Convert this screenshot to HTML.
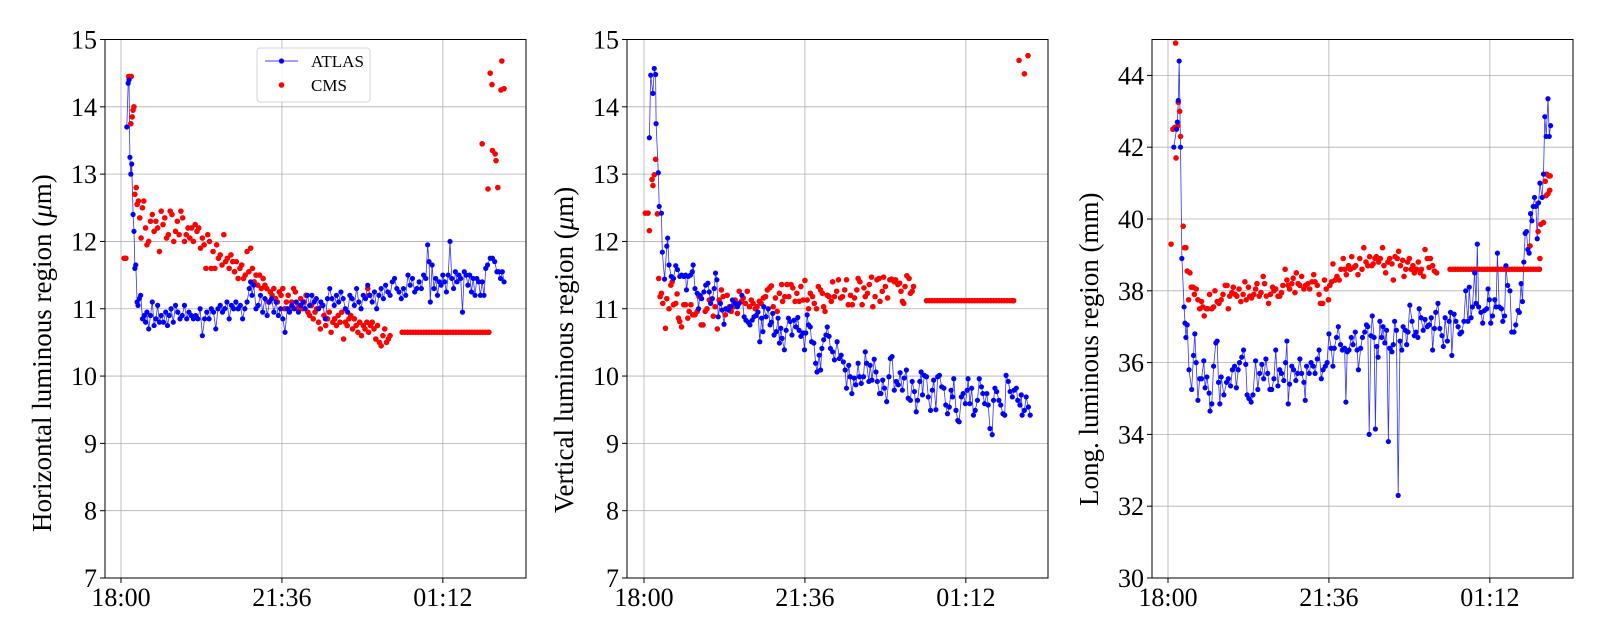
<!DOCTYPE html>
<html><head><meta charset="utf-8"><style>
html,body{margin:0;padding:0;background:#fff;}
svg{display:block;font-family:"Liberation Serif","DejaVu Serif",serif;}
</style></head><body>
<svg id="chart" width="1600" height="640" viewBox="0 0 1600 640" xmlns="http://www.w3.org/2000/svg"></svg>
<script>
// ---- data: [hours since 18:00, value] ----
const xTickLabels = ["18:00","21:36","01:12"];
const xTickHours = [0, 3.6, 7.2];
const yTicksH = [7,8,9,10,11,12,13,14,15];
const yTicksL = [30,32,34,36,38,40,42,44];

const atlasH = [[0.13,13.7],[0.16,14.35],[0.18,14.4],[0.2,13.25],[0.22,13.0],[0.24,13.15],[0.27,12.4],[0.29,12.15],[0.31,11.6],[0.33,11.65],[0.36,11.1],[0.38,11.05],[0.41,11.15],[0.44,11.2],[0.48,10.85],[0.52,10.9],[0.55,10.8],[0.58,10.95],[0.62,10.7],[0.66,10.9],[0.7,11.1],[0.74,10.75],[0.78,10.85],[0.82,11.05],[0.86,10.8],[0.9,10.9],[0.95,10.8],[1.0,10.95],[1.04,10.75],[1.08,10.9],[1.12,11.0],[1.17,10.8],[1.22,11.05],[1.27,10.95],[1.32,10.85],[1.37,10.9],[1.42,11.05],[1.47,10.85],[1.52,10.95],[1.57,10.9],[1.62,10.85],[1.67,10.9],[1.72,10.85],[1.77,11.0],[1.82,10.6],[1.87,10.85],[1.92,10.95],[1.97,10.85],[2.02,11.0],[2.07,10.95],[2.12,10.7],[2.17,11.0],[2.22,11.05],[2.27,10.95],[2.32,11.0],[2.37,11.1],[2.42,10.85],[2.47,11.05],[2.52,11.0],[2.57,11.1],[2.62,11.0],[2.67,11.05],[2.72,10.85],[2.77,11.0],[2.82,11.1],[2.87,11.3],[2.9,11.4],[2.93,11.2],[2.97,11.35],[3.02,11.0],[3.07,11.05],[3.12,11.2],[3.17,10.95],[3.22,11.15],[3.27,10.9],[3.32,11.1],[3.37,11.15],[3.42,10.95],[3.47,11.1],[3.52,10.9],[3.57,11.0],[3.62,10.85],[3.67,10.65],[3.72,11.0],[3.77,10.95],[3.82,11.05],[3.87,11.0],[3.92,11.1],[3.97,10.95],[4.02,11.05],[4.07,11.1],[4.12,11.0],[4.17,11.2],[4.22,11.05],[4.27,11.2],[4.32,11.1],[4.37,11.15],[4.42,11.0],[4.47,11.1],[4.52,11.05],[4.57,10.85],[4.62,11.15],[4.67,11.3],[4.72,11.15],[4.77,11.05],[4.82,11.2],[4.87,11.1],[4.92,11.25],[4.97,11.15],[5.02,11.0],[5.07,10.95],[5.12,11.2],[5.17,11.15],[5.22,11.05],[5.27,11.3],[5.32,11.1],[5.37,11.0],[5.42,11.2],[5.47,11.15],[5.52,11.35],[5.57,11.2],[5.62,11.1],[5.67,11.25],[5.72,11.0],[5.77,11.2],[5.82,11.3],[5.87,11.15],[5.92,11.35],[5.97,11.25],[6.02,11.2],[6.07,11.4],[6.12,11.45],[6.17,11.3],[6.22,11.25],[6.27,11.15],[6.32,11.3],[6.37,11.2],[6.42,11.5],[6.47,11.35],[6.52,11.45],[6.57,11.25],[6.62,11.3],[6.67,11.4],[6.72,11.3],[6.77,11.5],[6.82,11.45],[6.86,11.95],[6.89,11.7],[6.92,11.1],[6.96,11.65],[7.0,11.3],[7.04,11.45],[7.08,11.2],[7.12,11.4],[7.16,11.35],[7.2,11.5],[7.24,11.4],[7.28,11.25],[7.32,11.5],[7.36,12.0],[7.4,11.45],[7.44,11.3],[7.48,11.55],[7.52,11.4],[7.56,11.5],[7.6,11.45],[7.64,10.95],[7.68,11.55],[7.72,11.5],[7.76,11.35],[7.8,11.5],[7.84,11.25],[7.88,11.45],[7.92,11.2],[7.96,11.45],[8.0,11.4],[8.04,11.2],[8.08,11.4],[8.12,11.2],[8.16,11.6],[8.2,11.65],[8.26,11.75],[8.31,11.75],[8.36,11.7],[8.41,11.55],[8.45,11.55],[8.49,11.45],[8.53,11.55],[8.57,11.4]];

const cmsH = [[0.07,11.75],[0.11,11.75],[0.17,14.45],[0.2,14.45],[0.22,13.75],[0.23,14.45],[0.25,13.85],[0.27,13.95],[0.29,14.0],[0.31,12.7],[0.34,12.8],[0.36,12.55],[0.39,12.6],[0.42,12.35],[0.45,12.05],[0.48,12.5],[0.51,12.6],[0.55,12.2],[0.58,11.95],[0.62,12.0],[0.66,12.3],[0.7,12.4],[0.74,12.15],[0.78,12.3],[0.82,12.2],[0.86,11.85],[0.9,12.45],[0.94,12.25],[0.98,12.35],[1.02,12.05],[1.06,12.1],[1.1,12.45],[1.14,12.4],[1.18,12.0],[1.22,12.15],[1.26,12.3],[1.3,12.1],[1.34,12.45],[1.38,12.35],[1.42,12.0],[1.46,12.1],[1.5,12.2],[1.54,12.05],[1.58,12.2],[1.62,12.0],[1.66,12.25],[1.7,12.15],[1.74,12.2],[1.78,11.9],[1.82,12.05],[1.86,11.95],[1.9,11.6],[1.94,12.1],[1.98,12.0],[2.02,11.6],[2.06,11.85],[2.1,11.6],[2.14,11.95],[2.18,11.75],[2.22,11.8],[2.26,11.65],[2.3,12.1],[2.34,11.7],[2.38,11.75],[2.42,11.6],[2.46,11.8],[2.5,11.7],[2.54,11.55],[2.58,11.7],[2.62,11.45],[2.66,11.6],[2.7,11.65],[2.74,11.45],[2.78,11.5],[2.82,11.85],[2.86,11.55],[2.9,11.9],[2.94,11.6],[2.98,11.4],[3.02,11.5],[3.06,11.35],[3.1,11.5],[3.14,11.3],[3.18,11.45],[3.22,11.35],[3.26,11.3],[3.3,11.1],[3.34,11.25],[3.38,11.2],[3.42,11.3],[3.46,11.15],[3.5,11.1],[3.54,11.25],[3.58,11.2],[3.62,11.3],[3.66,11.0],[3.7,11.1],[3.74,11.2],[3.78,11.0],[3.82,11.1],[3.86,11.3],[3.9,11.25],[3.94,11.0],[3.98,11.05],[4.02,11.15],[4.06,11.0],[4.1,11.1],[4.14,11.2],[4.18,10.95],[4.22,10.9],[4.26,11.05],[4.3,10.85],[4.34,10.95],[4.38,11.0],[4.42,10.8],[4.46,10.7],[4.5,11.05],[4.54,10.9],[4.58,10.75],[4.62,10.85],[4.66,10.95],[4.7,10.65],[4.74,10.8],[4.78,10.85],[4.82,10.75],[4.86,10.9],[4.9,10.8],[4.94,10.95],[4.98,10.55],[5.02,10.8],[5.06,10.75],[5.1,10.85],[5.14,10.9],[5.18,10.7],[5.22,10.85],[5.26,10.75],[5.3,10.65],[5.34,10.8],[5.38,10.6],[5.42,10.75],[5.46,10.7],[5.5,10.8],[5.52,11.3],[5.55,11.2],[5.54,10.65],[5.58,10.75],[5.62,10.8],[5.66,10.7],[5.7,10.55],[5.74,10.75],[5.78,10.5],[5.82,10.45],[5.86,10.6],[5.9,10.7],[5.94,10.5],[5.98,10.55],[6.02,10.6],
[8.08,13.45],[8.21,12.78],[8.26,14.5],[8.3,14.33],[8.31,13.35],[8.37,13.3],[8.39,13.2],[8.43,12.8],[8.5,14.25],[8.52,14.68],[8.57,14.27]];
const cmsHFlatT = [6.29,6.35,6.41,6.47,6.53,6.59,6.65,6.71,6.77,6.83,6.89,6.95,7.01,7.07,7.13,7.19,7.25,7.31,7.37,7.43,7.49,7.55,7.61,7.67,7.73,7.79,7.85,7.91,7.97,8.03,8.09,8.15,8.21,8.23];
const cmsHFlatV = 10.65;

const atlasV = [[0.12,13.54],[0.15,14.47],[0.2,14.2],[0.23,14.57],[0.26,14.48],[0.27,13.75],[0.32,13.02],[0.34,12.52],[0.39,12.42],[0.41,11.84],[0.46,11.44],[0.51,11.93],[0.53,12.05],[0.56,11.65],[0.61,11.48],[0.66,11.45],[0.71,11.64],[0.75,11.58],[0.8,11.48],[0.84,11.5],[0.89,11.48],[0.93,11.5],[0.95,11.28],[0.99,11.48],[1.04,11.5],[1.08,11.55],[1.1,11.65],[1.14,11.3],[1.19,11.23],[1.22,11.0],[1.25,11.2],[1.29,11.15],[1.34,11.25],[1.38,11.35],[1.43,11.38],[1.46,11.25],[1.49,11.08],[1.53,11.15],[1.57,11.3],[1.6,11.53],[1.63,11.43],[1.66,10.88],[1.71,11.08],[1.75,10.98],[1.79,10.77],[1.83,11.0],[1.89,10.98],[1.94,11.03],[1.98,11.13],[2.03,11.08],[2.09,11.03],[2.13,11.08],[2.19,11.2],[2.24,10.88],[2.28,10.83],[2.33,10.8],[2.37,10.76],[2.42,10.83],[2.46,10.88],[2.51,10.9],[2.55,10.95],[2.59,10.51],[2.63,10.86],[2.66,10.66],[2.68,11.03],[2.73,10.88],[2.78,11.0],[2.82,10.76],[2.85,10.8],[2.88,10.93],[2.91,10.61],[2.96,10.66],[3.0,10.86],[3.03,10.49],[3.06,10.71],[3.09,10.56],[3.14,10.39],[3.18,10.68],[3.23,10.86],[3.27,10.81],[3.31,10.61],[3.36,10.83],[3.4,10.73],[3.44,10.87],[3.47,10.68],[3.51,10.59],[3.56,10.64],[3.59,10.39],[3.62,10.64],[3.65,10.91],[3.68,10.76],[3.72,10.73],[3.75,10.51],[3.8,10.49],[3.84,10.19],[3.87,10.06],[3.92,10.31],[3.95,10.09],[3.98,10.41],[4.02,10.54],[4.07,10.61],[4.1,10.73],[4.14,10.59],[4.17,10.41],[4.22,10.36],[4.26,10.24],[4.32,10.51],[4.37,10.26],[4.41,10.31],[4.46,10.21],[4.5,10.09],[4.53,9.82],[4.58,10.16],[4.61,9.99],[4.65,9.74],[4.7,9.97],[4.74,9.87],[4.79,10.19],[4.82,9.99],[4.86,9.89],[4.91,9.99],[4.95,10.36],[4.98,10.19],[5.03,9.92],[5.06,10.16],[5.1,9.94],[5.15,10.25],[5.19,10.06],[5.22,9.92],[5.27,9.74],[5.3,9.74],[5.34,9.94],[5.38,9.82],[5.43,9.62],[5.48,9.99],[5.51,10.26],[5.55,10.29],[5.6,9.79],[5.64,9.92],[5.69,9.87],[5.73,10.05],[5.78,9.79],[5.82,9.97],[5.87,10.09],[5.91,9.67],[5.96,9.64],[6.0,9.92],[6.05,9.77],[6.09,9.47],[6.12,9.64],[6.17,9.92],[6.2,10.06],[6.23,9.72],[6.27,10.01],[6.32,9.99],[6.36,9.69],[6.41,9.49],[6.45,9.79],[6.48,9.94],[6.53,9.5],[6.57,9.99],[6.61,10.01],[6.66,9.84],[6.71,9.82],[6.75,9.57],[6.79,9.44],[6.83,9.54],[6.87,9.79],[6.9,9.69],[6.93,9.96],[6.98,9.49],[7.02,9.34],[7.05,9.32],[7.1,9.69],[7.14,9.74],[7.19,9.59],[7.23,9.79],[7.25,9.96],[7.29,9.59],[7.33,9.82],[7.37,9.42],[7.41,9.49],[7.46,9.64],[7.5,9.96],[7.55,9.84],[7.58,9.74],[7.62,9.59],[7.67,9.74],[7.7,9.57],[7.74,9.22],[7.79,9.13],[7.82,9.64],[7.85,9.82],[7.89,9.77],[7.94,9.64],[7.98,9.57],[8.03,9.44],[8.07,9.42],[8.1,10.01],[8.15,9.92],[8.19,9.77],[8.24,9.69],[8.28,9.79],[8.33,9.82],[8.36,9.64],[8.41,9.57],[8.44,9.72],[8.46,9.42],[8.51,9.49],[8.55,9.69],[8.6,9.54],[8.64,9.42]];

const cmsV = [[0.03,12.42],[0.09,12.42],[0.12,12.16],[0.18,12.92],[0.2,12.83],[0.23,12.99],[0.26,13.22],[0.3,12.41],[0.33,11.45],[0.36,11.18],[0.39,11.23],[0.42,11.08],[0.48,10.71],[0.51,11.15],[0.56,11.0],[0.6,11.35],[0.63,11.4],[0.66,11.06],[0.71,11.08],[0.74,11.22],[0.77,10.86],[0.8,10.81],[0.84,10.73],[0.89,11.06],[0.93,11.06],[0.98,10.86],[1.01,10.96],[1.05,11.06],[1.09,10.91],[1.14,10.91],[1.19,10.96],[1.23,11.18],[1.28,10.76],[1.32,10.76],[1.37,10.96],[1.41,11.0],[1.46,11.13],[1.5,11.14],[1.55,10.89],[1.59,11.03],[1.64,10.7],[1.68,11.13],[1.73,11.28],[1.77,11.18],[1.82,10.91],[1.86,11.2],[1.91,11.03],[1.95,10.96],[2.0,11.03],[2.04,11.13],[2.09,10.93],[2.13,11.26],[2.18,11.11],[2.22,11.16],[2.27,11.08],[2.31,11.26],[2.36,11.03],[2.4,11.13],[2.44,11.08],[2.49,11.0],[2.53,11.03],[2.58,11.11],[2.62,11.08],[2.67,11.16],[2.72,11.18],[2.76,11.28],[2.81,11.31],[2.85,11.34],[2.89,11.03],[2.94,11.16],[2.98,10.96],[3.03,11.23],[3.08,11.36],[3.1,11.11],[3.15,11.18],[3.2,11.36],[3.24,11.18],[3.29,11.36],[3.33,11.31],[3.38,11.11],[3.42,11.23],[3.47,11.11],[3.51,11.33],[3.56,11.13],[3.6,11.42],[3.65,11.13],[3.68,11.0],[3.72,11.23],[3.77,11.18],[3.81,11.08],[3.86,11.0],[3.9,11.33],[3.95,11.28],[3.99,11.23],[4.02,11.03],[4.05,10.96],[4.1,11.2],[4.14,11.18],[4.19,11.11],[4.22,11.4],[4.26,11.18],[4.31,11.26],[4.35,11.43],[4.4,11.16],[4.44,11.18],[4.49,11.28],[4.53,11.43],[4.57,11.06],[4.62,11.2],[4.66,11.06],[4.71,11.16],[4.76,11.28],[4.79,11.45],[4.83,11.4],[4.88,11.06],[4.92,11.31],[4.95,11.18],[5.0,11.23],[5.04,11.36],[5.09,11.47],[5.12,11.03],[5.17,11.18],[5.21,11.43],[5.26,11.45],[5.28,11.11],[5.33,11.26],[5.36,11.47],[5.4,11.33],[5.45,11.16],[5.5,11.43],[5.54,11.44],[5.6,11.4],[5.63,11.43],[5.68,11.36],[5.72,11.38],[5.75,11.26],[5.78,11.11],[5.81,11.08],[5.84,11.33],[5.88,11.49],[5.93,11.45],[5.96,11.23],[6.0,11.26],[6.03,11.33],
[8.39,14.69],[8.51,14.49],[8.59,14.76]];
const cmsVFlatT = [6.32,6.38,6.44,6.5,6.56,6.62,6.68,6.74,6.8,6.86,6.92,6.98,7.04,7.1,7.16,7.22,7.28,7.34,7.4,7.46,7.52,7.58,7.64,7.7,7.76,7.82,7.88,7.94,8.0,8.06,8.12,8.18,8.24,8.27];
const cmsVFlatV = 11.12;

const atlasL = [[0.13,42.0],[0.19,42.5],[0.21,42.7],[0.23,43.3],[0.25,44.4],[0.28,42.0],[0.31,38.9],[0.36,37.55],[0.38,37.1],[0.4,36.7],[0.43,37.05],[0.47,35.8],[0.53,35.25],[0.57,36.2],[0.6,36.8],[0.63,36.0],[0.67,34.95],[0.71,35.55],[0.75,35.55],[0.8,36.05],[0.83,35.3],[0.87,35.6],[0.92,35.15],[0.94,34.65],[0.98,34.85],[1.02,35.9],[1.07,36.55],[1.1,36.6],[1.13,35.45],[1.16,34.85],[1.19,35.6],[1.25,35.1],[1.31,35.45],[1.35,35.55],[1.4,35.35],[1.44,35.8],[1.49,35.9],[1.53,35.3],[1.57,35.8],[1.6,36.0],[1.65,36.15],[1.69,36.35],[1.74,35.95],[1.77,35.1],[1.81,35.0],[1.86,34.9],[1.9,35.1],[1.96,36.05],[2.01,35.25],[2.05,35.7],[2.1,35.95],[2.14,35.55],[2.19,36.1],[2.23,35.7],[2.28,35.25],[2.32,35.25],[2.37,35.55],[2.41,36.35],[2.46,35.35],[2.5,35.8],[2.54,35.7],[2.59,35.5],[2.63,36.0],[2.66,36.6],[2.69,34.85],[2.72,35.4],[2.77,35.9],[2.81,35.8],[2.86,35.5],[2.9,35.7],[2.95,36.1],[2.99,35.7],[3.04,35.45],[3.07,34.95],[3.1,35.9],[3.16,35.7],[3.2,36.0],[3.25,35.9],[3.29,35.7],[3.34,36.1],[3.38,36.35],[3.43,35.55],[3.47,35.8],[3.52,35.9],[3.56,36.0],[3.6,36.8],[3.65,36.4],[3.69,35.9],[3.72,36.4],[3.77,36.7],[3.81,37.0],[3.86,36.5],[3.9,36.35],[3.95,36.4],[3.98,34.9],[4.01,36.3],[4.05,36.35],[4.1,36.7],[4.14,36.5],[4.19,36.85],[4.23,36.35],[4.26,35.8],[4.31,36.4],[4.35,36.7],[4.4,36.85],[4.44,37.05],[4.47,37.0],[4.5,34.0],[4.54,36.75],[4.57,37.3],[4.61,36.7],[4.64,34.15],[4.67,36.45],[4.7,36.15],[4.74,37.15],[4.78,36.7],[4.81,37.0],[4.85,36.55],[4.89,36.9],[4.93,33.8],[4.96,36.4],[5.01,36.3],[5.04,36.5],[5.07,37.15],[5.11,36.9],[5.15,32.3],[5.19,36.6],[5.23,36.35],[5.26,37.0],[5.31,36.9],[5.34,36.5],[5.37,36.85],[5.41,37.6],[5.46,37.15],[5.51,36.75],[5.55,36.85],[5.59,36.7],[5.62,37.5],[5.66,37.25],[5.71,36.9],[5.75,37.2],[5.8,37.0],[5.84,37.05],[5.89,37.25],[5.92,36.35],[5.96,36.95],[5.99,37.4],[6.04,37.65],[6.08,36.95],[6.13,36.75],[6.16,36.45],[6.2,37.25],[6.25,36.6],[6.29,37.15],[6.32,37.4],[6.35,36.2],[6.4,37.35],[6.44,37.15],[6.49,37.0],[6.53,36.8],[6.57,36.85],[6.62,37.15],[6.66,38.0],[6.71,37.15],[6.74,38.1],[6.78,37.25],[6.81,37.55],[6.86,38.5],[6.89,37.65],[6.92,39.3],[6.95,37.55],[7.0,37.4],[7.04,37.1],[7.08,37.45],[7.13,37.5],[7.16,38.05],[7.19,37.75],[7.22,37.1],[7.26,37.3],[7.31,37.75],[7.34,37.55],[7.37,39.05],[7.41,37.55],[7.46,37.5],[7.49,37.15],[7.53,37.3],[7.56,38.7],[7.6,38.15],[7.65,38.0],[7.69,36.85],[7.74,36.85],[7.78,37.05],[7.83,37.45],[7.86,37.4],[7.9,38.2],[7.93,37.7],[7.96,38.8],[7.99,39.6],[8.02,39.65],[8.05,39.15],[8.08,39.05],[8.11,40.15],[8.14,39.95],[8.17,40.35],[8.2,40.6],[8.23,40.35],[8.26,39.45],[8.29,40.45],[8.32,41.0],[8.37,40.6],[8.4,41.25],[8.43,42.85],[8.46,42.3],[8.5,43.35],[8.53,42.3],[8.56,42.6]];

const cmsL = [[0.07,39.3],[0.11,42.5],[0.15,42.55],[0.17,44.9],[0.18,41.7],[0.22,42.6],[0.23,43.25],[0.26,43.0],[0.28,42.3],[0.34,39.8],[0.37,39.2],[0.4,39.2],[0.43,38.55],[0.46,37.75],[0.49,38.5],[0.52,38.1],[0.56,38.1],[0.59,37.9],[0.63,38.05],[0.67,37.75],[0.71,37.5],[0.75,37.7],[0.78,37.55],[0.81,37.3],[0.86,37.5],[0.89,37.5],[0.93,37.9],[0.98,37.5],[1.02,37.55],[1.05,38.0],[1.1,37.7],[1.14,37.65],[1.19,37.75],[1.23,37.9],[1.28,38.15],[1.32,38.15],[1.35,37.5],[1.38,37.85],[1.43,37.95],[1.46,38.1],[1.5,37.9],[1.54,37.85],[1.59,38.05],[1.63,37.7],[1.68,37.9],[1.72,38.25],[1.75,37.75],[1.8,38.1],[1.83,37.85],[1.87,37.8],[1.92,37.9],[1.96,38.05],[1.99,38.2],[2.04,37.85],[2.08,37.95],[2.13,38.4],[2.16,38.2],[2.2,37.85],[2.25,37.65],[2.29,37.9],[2.34,38.1],[2.37,38.0],[2.41,38.05],[2.46,37.85],[2.5,37.85],[2.54,37.95],[2.57,38.15],[2.62,38.6],[2.66,38.3],[2.69,38.15],[2.72,38.05],[2.77,38.2],[2.8,38.35],[2.84,37.95],[2.87,38.5],[2.91,38.2],[2.95,38.15],[2.99,38.4],[3.04,38.05],[3.08,38.15],[3.13,38.2],[3.17,38.05],[3.22,38.25],[3.26,38.45],[3.29,38.25],[3.34,38.15],[3.38,37.9],[3.41,37.65],[3.46,37.65],[3.5,38.3],[3.54,38.05],[3.59,37.75],[3.62,38.15],[3.66,38.25],[3.69,38.75],[3.74,38.3],[3.78,38.4],[3.83,38.3],[3.87,38.6],[3.92,38.9],[3.96,38.6],[3.99,38.45],[4.04,38.7],[4.08,38.6],[4.11,38.95],[4.16,38.65],[4.2,38.7],[4.25,38.45],[4.29,38.9],[4.34,38.6],[4.38,39.2],[4.43,38.8],[4.47,38.7],[4.51,38.95],[4.56,38.7],[4.59,38.75],[4.63,38.9],[4.66,38.95],[4.71,38.8],[4.75,38.9],[4.8,39.2],[4.83,38.7],[4.87,38.5],[4.92,38.8],[4.96,38.9],[5.01,38.75],[5.04,38.3],[5.08,38.95],[5.13,38.9],[5.16,39.1],[5.2,38.7],[5.25,38.85],[5.28,38.4],[5.32,38.6],[5.36,38.8],[5.4,38.9],[5.44,38.6],[5.48,38.7],[5.51,38.5],[5.56,38.6],[5.6,38.8],[5.64,38.5],[5.67,38.6],[5.72,38.4],[5.75,39.15],[5.8,38.9],[5.84,38.65],[5.87,38.9],[5.92,38.7],[5.96,38.55],[6.01,38.5],
[8.1,39.25],[8.28,39.65],[8.32,38.9],[8.34,39.85],[8.4,39.9],[8.44,41.05],[8.46,40.65],[8.47,41.25],[8.5,40.7],[8.52,41.2],[8.54,40.8],[8.55,41.2]];
const cmsLFlatT = [6.31,6.37,6.43,6.49,6.55,6.61,6.67,6.73,6.79,6.85,6.91,6.97,7.03,7.09,7.15,7.21,7.27,7.33,7.39,7.45,7.51,7.57,7.63,7.69,7.75,7.81,7.87,7.93,7.99,8.05,8.11,8.17,8.23,8.29,8.31];
const cmsLFlatV = 38.6;

// ---- drawing ----
const NS = "http://www.w3.org/2000/svg";
const svg = document.getElementById("chart");
function mk(tag, attrs, parent) {
  const e = document.createElementNS(NS, tag);
  for (const k in attrs) e.setAttribute(k, attrs[k]);
  (parent || svg).appendChild(e);
  return e;
}
const TOP = 39.5, BOT = 578, PW = 421, PXH = 44.7;

const panels = [
  {name:"horizontal", left:105, x0:121, ymin:7, ymax:15, ticks:yTicksH, title:"Horizontal luminous region (", unit:"μ", tail:"m)", tb:532,
   atlas:atlasH, cms:cmsH, flatT:cmsHFlatT, flatV:cmsHFlatV, legend:true},
  {name:"vertical", left:627, x0:644, ymin:7, ymax:15, ticks:yTicksH, title:"Vertical luminous region (", unit:"μ", tail:"m)", tb:513,
   atlas:atlasV, cms:cmsV, flatT:cmsVFlatT, flatV:cmsVFlatV},
  {name:"longitudinal", left:1152, x0:1168, ymin:30, ymax:45, ticks:yTicksL, title:"Long. luminous region (mm)", unit:"", tail:"", tb:506,
   atlas:atlasL, cms:cmsL, flatT:cmsLFlatT, flatV:cmsLFlatV}
];

panels.forEach(p => {
  const g = mk("g", {});
  
  
  const xs = t => p.x0 + t * PXH;
  const ys = v => BOT - (v - p.ymin) / (p.ymax - p.ymin) * (BOT - TOP);

  const grid = mk("g", {stroke:"#b0b0b0", "stroke-width":"0.8"}, g);
  
  
  xTickHours.forEach(h => mk("line", {x1:xs(h), x2:xs(h), y1:TOP, y2:BOT}, grid));
  p.ticks.forEach(v => mk("line", {x1:p.left, x2:p.left+PW, y1:ys(v), y2:ys(v)}, grid));

  const xax = mk("g", {}, g);
  
  
  xTickHours.forEach((h, i) => {
    mk("line", {x1:xs(h), x2:xs(h), y1:BOT, y2:BOT+5, stroke:"#000", "stroke-width":"1"}, xax);
    const t = mk("text", {x:xs(h), y:606, "font-size":"26", "text-anchor":"middle", fill:"#000"}, xax);
    t.textContent = xTickLabels[i];
    
    
  });
  const yax = mk("g", {}, g);
  
  
  p.ticks.forEach(v => {
    mk("line", {x1:p.left-5, x2:p.left, y1:ys(v), y2:ys(v), stroke:"#000", "stroke-width":"1"}, yax);
    const t = mk("text", {x:p.left-8, y:ys(v)+9, "font-size":"26", "text-anchor":"end", fill:"#000"}, yax);
    t.textContent = String(v);
    
    
  });
  const tt = mk("text", {transform:`translate(${p.left-54},${p.tb}) rotate(-90)`, "font-size":"27", "text-anchor":"start", fill:"#000"}, g);
  
  
  tt.appendChild(document.createTextNode(p.title));
  if (p.unit) {
    const ts = mk("tspan", {"font-style":"italic"}, tt);
    ts.textContent = p.unit;
    tt.appendChild(document.createTextNode(p.tail));
  }

  const cid = "clip-" + p.name;
  const cp = mk("clipPath", {id:cid}, g);
  mk("rect", {x:p.left, y:TOP, width:PW, height:BOT-TOP}, cp);
  const data = mk("g", {"clip-path":`url(#${cid})`}, g);

  const pts = p.atlas.map(d => xs(d[0]).toFixed(1) + "," + ys(d[1]).toFixed(1)).join(" ");
  const pl = mk("polyline", {points:pts, fill:"none", stroke:"#0000ff", "stroke-width":"0.8", "stroke-opacity":"0.8"}, data);
  
  
  const cg = mk("g", {fill:"#ff0000"}, data);
  
  
  p.cms.forEach(d => {
    const c = mk("circle", {cx:xs(d[0]), cy:ys(d[1]), r:2.8}, cg);
    
    
  });
  p.flatT.forEach(t => {
    const c = mk("circle", {cx:xs(t), cy:ys(p.flatV), r:2.8}, cg);
    
    
  });
  const ag = mk("g", {fill:"#0000ff"}, data);
  
  
  p.atlas.forEach(d => {
    const c = mk("circle", {cx:xs(d[0]), cy:ys(d[1]), r:2.6}, ag);
    
    
  });

  const sp = mk("rect", {x:p.left, y:TOP, width:PW, height:BOT-TOP, fill:"none", stroke:"#000", "stroke-width":"1"}, g);
  
  

  if (p.legend) {
    const lg = mk("g", {}, g);
    
    
    mk("rect", {x:257, y:48, width:113, height:54, rx:3, fill:"#fff", "fill-opacity":"0.8", stroke:"#d6d6d6", "stroke-width":"1"}, lg);
    const e1 = mk("g", {}, lg);
    
    
    mk("line", {x1:265, x2:298, y1:61, y2:61, stroke:"#0000ff", "stroke-width":"0.8"}, e1);
    mk("circle", {cx:281.5, cy:61, r:2.6, fill:"#0000ff"}, e1);
    const t1 = mk("text", {x:311, y:67, "font-size":"17", fill:"#000"}, e1);
    t1.textContent = "ATLAS";
    const e2 = mk("g", {}, lg);
    
    
    mk("circle", {cx:281.5, cy:85, r:2.8, fill:"#ff0000"}, e2);
    const t2 = mk("text", {x:311, y:91, "font-size":"17", fill:"#000"}, e2);
    t2.textContent = "CMS";
  }
});
</script>
</body></html>
